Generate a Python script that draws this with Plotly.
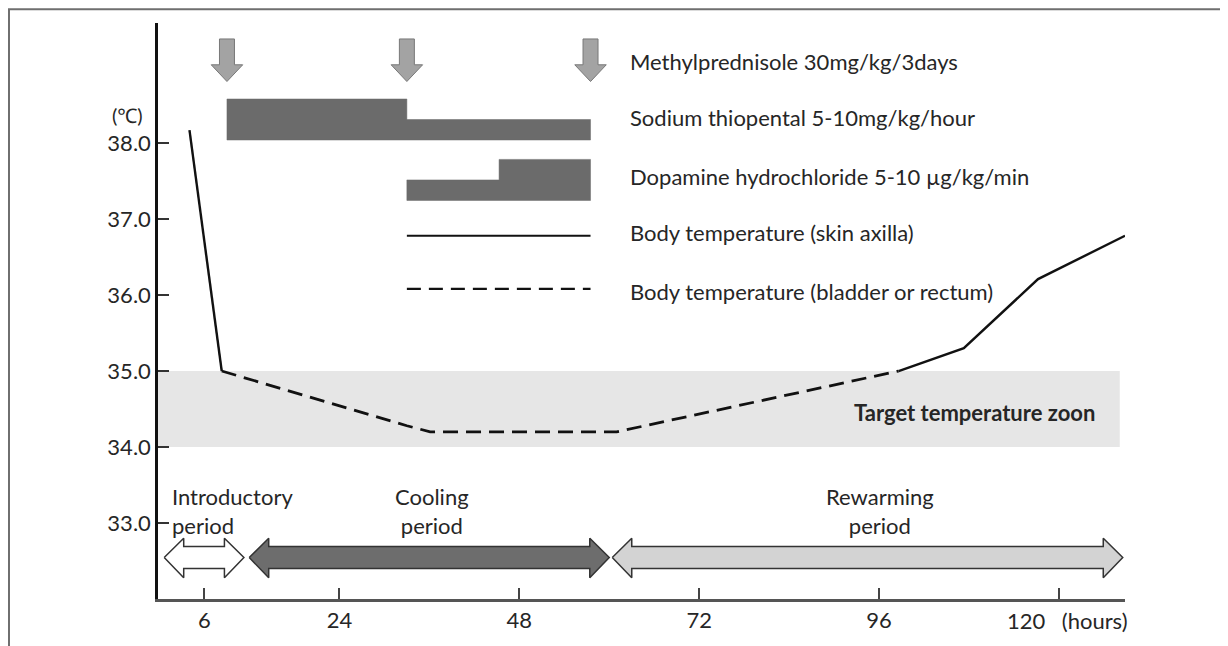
import plotly.graph_objects as go

# ---------------- data ----------------
x_ticks = [6, 24, 48, 72, 96, 120]
x_tick_text = ["6", "24", "48", "72", "96", ""]
y_ticks = [33, 34, 35, 36, 37, 38]
y_tick_text = ["33.0", "34.0", "35.0", "36.0", "37.0", "38.0"]

# body temperature, skin axilla (solid) and bladder/rectum (dashed)
skin_hours_a = [4.0, 8.3]
skin_temp_a = [38.17, 35.0]
core_hours = [8.3, 33.0, 36.1, 61.0, 98.6]
core_temp = [35.0, 34.28, 34.2, 34.2, 35.0]
skin_hours_b = [98.6, 107.3, 117.2, 128.8]
skin_temp_b = [35.0, 35.3, 36.21, 36.78]

# drugs
methyl_hours = [9.0, 33.0, 57.5]
thiopental_hours = [9.0, 33.0, 57.5]
thiopental_levels = [2, 1]
dopamine_hours = [33.0, 45.3, 57.5]
dopamine_levels = [1, 2]

# periods
period_labels = ["Introductory<br>period", "Cooling<br>period", "Rewarming<br>period"]
period_start = [0.63, 11.97, 60.4]
period_end = [11.26, 60.0, 128.5]
period_label_x = [1.4, 36.3, 96.1]

target_zone = [34.0, 35.0]
target_zone_end = 128.1

legend_labels = [
    "Methylprednisole 30mg/kg/3days",
    "Sodium thiopental 5-10mg/kg/hour",
    "Dopamine hydrochloride 5-10 \u00b5g/kg/min",
    "Body temperature (skin axilla)",
    "Body temperature (bladder or rectum)",
]

# ---------------- layout constants ----------------
FONT = "Lato, Carlito, 'Noto Sans', sans-serif"
TXT = "#262626"
FS = 22
row_y = [39.07, 38.33, 37.56, 36.82, 36.05]
legend_text_x = 62.5
legend_line_x = [33.0, 57.5]
legend_line_y = [36.78, 36.08]
DASH = "15px,8px"

fig = go.Figure()

# target zone
fig.add_shape(type="rect", xref="x", yref="y", x0=-0.2, x1=target_zone_end,
              y0=target_zone[0], y1=target_zone[1], fillcolor="#e6e6e6",
              line=dict(width=0), layer="below")

# methylprednisolone block arrows
for t in methyl_hours:
    sw, hw = 1.0, 2.1
    top, base, tip = 39.37, 39.03, 38.81
    fig.add_trace(go.Scatter(
        x=[t - sw, t + sw, t + sw, t + hw, t, t - hw, t - sw, t - sw],
        y=[top, top, base, base, tip, base, base, top],
        fill="toself", fillcolor="#a3a3a3", mode="lines",
        line=dict(color="#787878", width=1), hoverinfo="skip", showlegend=False))


def step_poly(hours, levels, base, unit):
    xs, ys = [hours[0]], [base]
    for i, lv in enumerate(levels):
        xs += [hours[i], hours[i + 1]]
        ys += [base + unit * lv, base + unit * lv]
    xs += [hours[-1], hours[0]]
    ys += [base, base]
    return xs, ys


tx, ty = step_poly(thiopental_hours, thiopental_levels, 38.04, 0.27)
fig.add_trace(go.Scatter(x=tx, y=ty, fill="toself", fillcolor="#6b6b6b", mode="lines",
                         line=dict(color="#6b6b6b", width=0.5), hoverinfo="skip", showlegend=False))
dx, dy = step_poly(dopamine_hours, dopamine_levels, 37.245, 0.27)
fig.add_trace(go.Scatter(x=dx, y=dy, fill="toself", fillcolor="#6b6b6b", mode="lines",
                         line=dict(color="#6b6b6b", width=0.5), hoverinfo="skip", showlegend=False))

# legend sample lines
fig.add_trace(go.Scatter(x=legend_line_x, y=[legend_line_y[0]] * 2, mode="lines",
                         line=dict(color="#111", width=2.2), hoverinfo="skip", showlegend=False))
fig.add_trace(go.Scatter(x=legend_line_x, y=[legend_line_y[1]] * 2, mode="lines",
                         line=dict(color="#111", width=2.2, dash="14px,8px"), hoverinfo="skip", showlegend=False))

# temperature curves
fig.add_trace(go.Scatter(x=skin_hours_a, y=skin_temp_a, mode="lines",
                         line=dict(color="#111", width=2.4), hoverinfo="skip", showlegend=False))
fig.add_trace(go.Scatter(x=core_hours, y=core_temp, mode="lines",
                         line=dict(color="#111", width=2.8, dash=DASH), hoverinfo="skip", showlegend=False))
fig.add_trace(go.Scatter(x=skin_hours_b, y=skin_temp_b, mode="lines",
                         line=dict(color="#111", width=2.4), hoverinfo="skip", showlegend=False))

# period double arrows
p_fill = ["#ffffff", "#6d6d6d", "#d3d3d3"]
head = 2.6
c, htop, hbot, stop, sbot = 32.545, 32.80, 32.28, 32.69, 32.40
for s, e, col in zip(period_start, period_end, p_fill):
    fig.add_trace(go.Scatter(
        x=[s, s + head, s + head, e - head, e - head, e, e - head, e - head, s + head, s + head, s],
        y=[c, htop, stop, stop, htop, c, hbot, sbot, sbot, hbot, c],
        fill="toself", fillcolor=col, mode="lines",
        line=dict(color="#333333", width=1.5), hoverinfo="skip", showlegend=False))

annotations = []
for lab, px in zip(period_labels, period_label_x):
    left = lab.startswith("Intro")
    annotations.append(dict(x=px, y=33.16, xref="x", yref="y", text=lab, showarrow=False,
                            xanchor="left" if left else "center", align="left" if left else "center",
                            yanchor="middle", font=dict(family=FONT, size=FS, color=TXT)))
for lab, yy in zip(legend_labels, row_y):
    annotations.append(dict(x=legend_text_x, y=yy, xref="x", yref="y", text=lab, showarrow=False,
                            xanchor="left", yanchor="middle", font=dict(family=FONT, size=FS, color=TXT)))
annotations.append(dict(x=125.1, y=34.45, xref="x", yref="y", text="<b>Target temperature zoon</b>",
                        showarrow=False, xanchor="right", yanchor="middle",
                        font=dict(family=FONT, size=FS, color=TXT)))
annotations.append(dict(x=-0.0315, y=38.37, xref="paper", yref="y", text="(\u2103)", showarrow=False,
                        xanchor="center", yanchor="middle", font=dict(family=FONT, size=20, color=TXT)))
annotations.append(dict(x=1.005, y=-0.0365, xref="paper", yref="paper", text="120\u2003(hours)",
                        showarrow=False, xanchor="right", yanchor="middle",
                        font=dict(family=FONT, size=FS, color=TXT)))

# frame (top + left edges of a rectangle running off the figure)
shapes = [
    dict(type="rect", xref="paper", yref="paper", x0=-0.1541, x1=1.3, y0=-0.2, y1=1.0238,
         line=dict(color="#6f6f6f", width=2), fillcolor="rgba(0,0,0,0)", layer="above"),
]

fig.update_layout(
    width=1220, height=638,
    margin=dict(l=150, r=103, t=15, b=47),
    paper_bgcolor="white", plot_bgcolor="white",
    font=dict(family=FONT, size=FS, color=TXT),
    annotations=annotations,
    shapes=list(fig.layout.shapes) + shapes,
    showlegend=False,
    xaxis=dict(range=[-0.2, 128.8], tickvals=x_ticks, ticktext=x_tick_text,
               ticks="inside", ticklen=11, tickwidth=2, tickcolor="#444",
               showline=True, linecolor="#555", linewidth=3, showgrid=False, zeroline=False,
               tickfont=dict(family=FONT, size=FS, color=TXT), fixedrange=True),
    yaxis=dict(range=[32.0, 39.58], tickvals=y_ticks, ticktext=y_tick_text,
               ticks="inside", ticklen=11, tickwidth=2, tickcolor="#333",
               showline=True, linecolor="#111", linewidth=2.5, showgrid=False, zeroline=False,
               tickfont=dict(family=FONT, size=FS, color=TXT), fixedrange=True),
)

fig.write_html("out.html")
